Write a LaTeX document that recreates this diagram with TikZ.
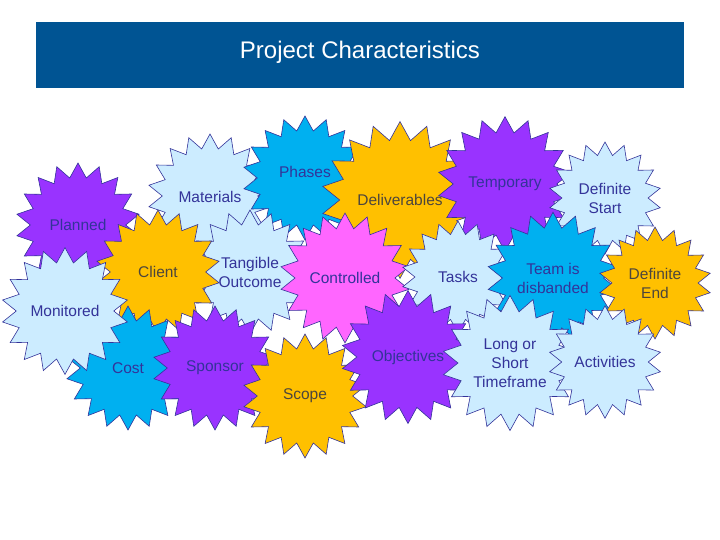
\documentclass[tikz,border=0pt]{standalone}
\usepackage{fontspec}
\setmainfont{Liberation Sans}
\usetikzlibrary{shapes.geometric}
\definecolor{titleblue}{RGB}{0,84,147}
\definecolor{pale}{RGB}{204,236,255}
\definecolor{sky}{RGB}{0,176,240}
\definecolor{violet}{RGB}{153,51,255}
\definecolor{amber}{RGB}{255,192,0}
\definecolor{pink}{RGB}{255,102,255}
\definecolor{ink}{RGB}{51,51,153}
\definecolor{inkdark}{RGB}{77,70,60}
\tikzset{
  burst/.style={star, star points=18, star point ratio=1.3, draw=ink, line width=0.6pt,
    minimum size=#1, inner sep=0pt, align=center, text=ink, font=\fontsize{15.5}{19}\selectfont},
  burst/.default=124pt,
  pale/.style={burst, fill=pale},
  sky/.style={burst, fill=sky},
  violet/.style={burst, fill=violet},
  amber/.style={burst, fill=amber, text=inkdark},
  pink/.style={burst, fill=pink},
}
\begin{document}
\begin{tikzpicture}[x=1pt, y=-1pt]
    \useasboundingbox (0,0) rectangle (720,540);
    % title bar
    \fill[titleblue] (36,22) rectangle (684,88);
    \node[text=white, font=\fontsize{24}{28}\selectfont] (title) at (360,52) {Project Characteristics};

    % top row
    \node[pale] (materials) at (210,196) {\\[-6pt]Materials};
    \node[violet] (planned) at (78,225) {Planned};
    \node[sky] (phases) at (305,178) {Phases\\[-6pt]};
    \node[amber] (deliverables) at (400,200) {Deliverables};
    \node[violet] (temporary) at (505,184) {Temporary};
    \node[pale, minimum size=112pt] (start) at (605,198) {Definite\\Start};

    % middle row
    \node[pale] (tangible) at (250,272) {Tangible\\Outcome};
    \node[amber] (client) at (158,272) {Client};
    \node[pink] (controlled) at (345,278) {Controlled};
    \node[pale, minimum size=112pt] (tasks) at (458,277) {Tasks};
    \node[sky, minimum size=116pt] (team) at (553,278) {Team is\\disbanded};
    \node[amber, minimum size=112pt] (finish) at (655,283) {Definite\\End};

    % bottom row
    \node[sky] (cost) at (128,368) {Cost};
    \node[pale] (monitored) at (65,311) {Monitored};
    \node[violet] (sponsor) at (215,368) {Sponsor};
    \node[amber] (scope) at (305,396) {Scope};
    \node[violet, minimum size=116pt] (objectives) at (408,357) {Objectives};
    \node[pale] (timeframe) at (510,363) {Long or\\Short\\Timeframe};
    \node[pale, minimum size=112pt] (activities) at (605,362) {Activities};
\end{tikzpicture}
\end{document}
